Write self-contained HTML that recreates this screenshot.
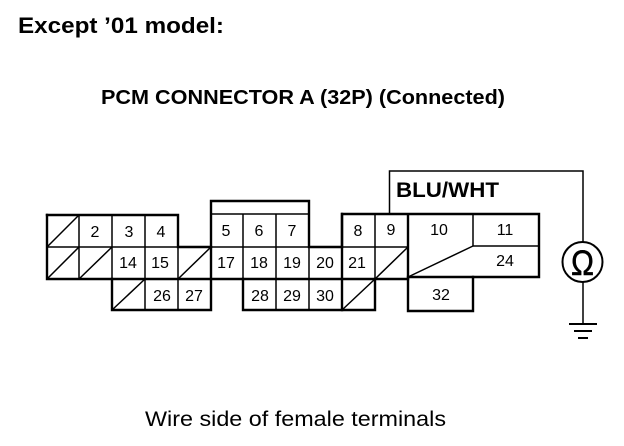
<!DOCTYPE html>
<html>
<head>
<meta charset="utf-8">
<style>
html,body{margin:0;padding:0;background:#fff;width:624px;height:446px;overflow:hidden}
svg{display:block}
text{font-family:"Liberation Sans",sans-serif;fill:#000}
.n{font-size:16px;text-anchor:middle}
.b{font-weight:bold}
</style>
</head>
<body>
<svg width="624" height="446" viewBox="0 0 624 446" xmlns="http://www.w3.org/2000/svg">
<rect width="624" height="446" fill="#fff"/>
<text x="18" y="33" class="b" font-size="22" textLength="206" lengthAdjust="spacingAndGlyphs">Except ’01 model:</text>
<text x="101" y="104" class="b" font-size="20.5" textLength="404" lengthAdjust="spacingAndGlyphs">PCM CONNECTOR A (32P) (Connected)</text>
<text x="145" y="426" font-size="21.5" textLength="301" lengthAdjust="spacingAndGlyphs">Wire side of female terminals</text>
<text x="396" y="197" class="b" font-size="21" textLength="103" lengthAdjust="spacingAndGlyphs">BLU/WHT</text>

<!-- thin grid lines -->
<g stroke="#000" stroke-width="1.5" fill="none">
<path d="M79 215V279M112 215V279M145 215V310M178 247V310M47 247H178"/>
<path d="M243 214V279M276 214V310M309 247V310M211 214H309M211 247H309"/>
<path d="M375 214V310M342 247H408"/>
<path d="M473 213V246M473 246H539"/>
<!-- diagonals -->
<path d="M47 247L79 215M47 279L79 247M79 279L112 247M178 279L211 247M112 310L145 279M375 279L408 247M342 310L375 279M408 277L473 246"/>
<!-- wire -->
<path d="M389.5 214V171H583V242M583 282V323"/>
</g>
<!-- thick outlines -->
<g stroke="#000" stroke-width="2.4" fill="none" stroke-linejoin="miter" stroke-linecap="square">
<path d="M47 215H178V247H211V201H309V247H342V214H539V277H473V311H408V214"/>
<path d="M47 215V279H408M408 277H473"/>
<path d="M112 279V310H211V247"/>
<path d="M243 279V310H375V279"/>
<path d="M342 214V310"/>
</g>
<!-- numbers -->
<g>
<text class="n" x="95" y="237">2</text>
<text class="n" x="129" y="237">3</text>
<text class="n" x="161" y="237">4</text>
<text class="n" x="226" y="236">5</text>
<text class="n" x="259" y="236">6</text>
<text class="n" x="292" y="236">7</text>
<text class="n" x="358" y="236">8</text>
<text class="n" x="391" y="235">9</text>
<text class="n" x="439" y="235">10</text>
<text class="n" x="505" y="235">11</text>
<text class="n" x="128" y="268">14</text>
<text class="n" x="160" y="268">15</text>
<text class="n" x="226" y="268">17</text>
<text class="n" x="259" y="268">18</text>
<text class="n" x="292" y="268">19</text>
<text class="n" x="325" y="268">20</text>
<text class="n" x="357" y="268">21</text>
<text class="n" x="505" y="266">24</text>
<text class="n" x="162" y="301">26</text>
<text class="n" x="194" y="301">27</text>
<text class="n" x="260" y="301">28</text>
<text class="n" x="292" y="301">29</text>
<text class="n" x="325" y="301">30</text>
<text class="n" x="441" y="300">32</text>
</g>
<!-- ohmmeter -->
<circle cx="582.5" cy="262" r="20" fill="#fff" stroke="#000" stroke-width="2"/>
<text x="571" y="275" font-size="35" textLength="23" lengthAdjust="spacingAndGlyphs" stroke="#000" stroke-width="0.5">Ω</text>
<!-- ground -->
<g stroke="#000" stroke-width="2" fill="none">
<path d="M569 324H597M574 331H592M578 338H588"/>
</g>
</svg>
</body>
</html>
